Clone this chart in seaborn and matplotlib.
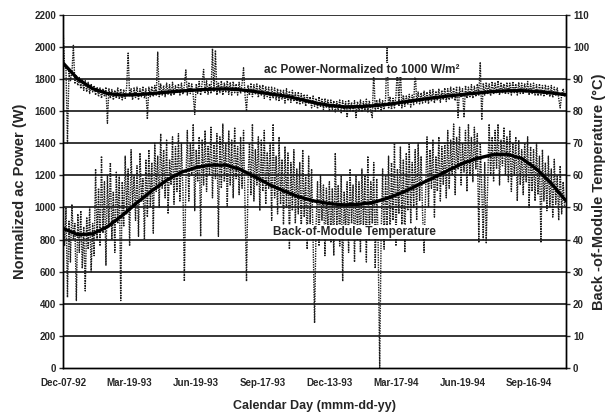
import numpy as np
import matplotlib
matplotlib.use("Agg")
import matplotlib.pyplot as plt
import seaborn as sns

# raw readings every 2nd day (one row = 40 days)
step_days = 2
temp_c = [
    47, 38, 50, 22, 46, 33, 51, 40, 45, 21, 48, 36, 49, 31, 44, 24, 47, 37, 50, 30,
    45, 35, 62, 40, 56, 38, 66, 42, 58, 32, 60, 44, 64, 40, 55, 36, 61, 45, 60, 21,
    58, 44, 66, 48, 62, 38, 68, 50, 60, 46, 63, 41, 67, 52, 59, 40, 65, 47, 68, 50,
    64, 42, 70, 55, 66, 50, 73, 56, 68, 53, 71, 48, 65, 57, 72, 51, 69, 55, 73, 52,
    70, 56, 27, 58, 74, 52, 70, 60, 76, 49, 68, 58, 72, 41, 71, 57, 74, 55, 69, 60,
    75, 53, 70, 59, 73, 41, 72, 56, 76, 58, 70, 50, 74, 57, 71, 53, 75, 59, 69, 54,
    72, 56, 74, 50, 27, 58, 70, 54, 76, 52, 68, 57, 72, 49, 71, 55, 74, 51, 67, 56,
    70, 46, 76, 53, 66, 48, 72, 51, 65, 44, 69, 50, 67, 37, 64, 49, 68, 45, 62, 48,
    64, 42, 68, 47, 60, 37, 66, 45, 62, 40, 14, 44, 58, 38, 60, 46, 57, 35, 56, 43,
    58, 39, 56, 35, 67, 44, 57, 38, 60, 27, 55, 42, 58, 36, 62, 45, 57, 33, 60, 40,
    58, 36, 62, 44, 60, 33, 66, 40, 58, 45, 64, 31, 59, 38, 0, 42, 62, 37, 60, 44,
    66, 40, 64, 46, 70, 38, 62, 48, 69, 44, 65, 36, 67, 49, 70, 45, 64, 50, 68, 46,
    70, 52, 66, 48, 36, 54, 72, 50, 68, 56, 71, 47, 66, 55, 72, 52, 69, 57, 70, 53,
    74, 56, 71, 60, 76, 54, 72, 62, 75, 57, 70, 61, 74, 55, 76, 60, 72, 58, 75, 62,
    73, 39, 70, 56, 40, 64, 39, 58, 76, 60, 72, 58, 74, 62, 76, 57, 71, 63, 75, 60,
    72, 58, 74, 55, 70, 60, 72, 52, 71, 57, 68, 54, 70, 58, 72, 50, 69, 55, 68, 52,
    70, 54, 66, 39, 68, 52, 64, 49, 66, 50, 62, 47, 65, 51, 60, 46, 63, 48, 58, 50,
]
power_w = [
    2120, 1880, 1860, 1400, 1850, 1790, 1840, 2010, 1770, 1820, 1760, 1810, 1740, 1800, 1730, 1790, 1720, 1780, 1710, 1770,
    1720, 1760, 1700, 1750, 1690, 1745, 1680, 1740, 1690, 1750, 1525, 1740, 1680, 1735, 1670, 1730, 1680, 1745, 1675, 1740,
    1670, 1735, 1680, 1750, 1962, 1690, 1740, 1670, 1745, 1685, 1750, 1670, 1740, 1690, 1755, 1680, 1740, 1550, 1750, 1690,
    1755, 1690, 1760, 1700, 1968, 1690, 1770, 1700, 1760, 1690, 1775, 1705, 1765, 1695, 1780, 1700, 1760, 1710, 1770, 1700,
    1775, 1705, 1760, 1857, 1700, 1780, 1710, 1770, 1700, 1580, 1770, 1710, 1785, 1700, 1775, 1860, 1710, 1790, 1705, 1770,
    1710, 1990, 1720, 1980, 1700, 1780, 1715, 1790, 1700, 1775, 1720, 1790, 1705, 1780, 1700, 1785, 1715, 1770, 1700, 1780,
    1710, 1770, 1870, 1700, 1600, 1760, 1700, 1775, 1690, 1765, 1705, 1770, 1685, 1760, 1700, 1765, 1680, 1755, 1690, 1750,
    1670, 1750, 1680, 1745, 1670, 1740, 1660, 1735, 1675, 1730, 1650, 1740, 1665, 1725, 1655, 1730, 1660, 1715, 1645, 1720,
    1640, 1710, 1650, 1705, 1630, 1700, 1645, 1690, 1620, 1695, 1630, 1680, 1615, 1690, 1625, 1675, 1610, 1680, 1620, 1670,
    1600, 1670, 1610, 1665, 1595, 1660, 1605, 1670, 1590, 1665, 1600, 1660, 1560, 1670, 1600, 1655, 1595, 1665, 1560, 1660,
    1600, 1670, 1595, 1660, 1605, 1675, 1590, 1665, 1600, 1560, 1860, 1600, 1670, 1610, 1675, 1600, 1665, 1610, 1680, 1994,
    1615, 1690, 1610, 1680, 1620, 1695, 1870, 1630, 1880, 1620, 1700, 1630, 1695, 1640, 1705, 1625, 1700, 1640, 1870, 1650,
    1720, 1645, 1715, 1650, 1725, 1655, 1720, 1645, 1730, 1660, 1735, 1650, 1725, 1665, 1740, 1655, 1730, 1670, 1745, 1660,
    1740, 1670, 1750, 1680, 1745, 1665, 1755, 1560, 1750, 1685, 1740, 1560, 1760, 1680, 1750, 1690, 1765, 1680, 1755, 1690,
    1770, 1700, 1906, 1545, 1775, 1700, 1780, 1710, 1770, 1695, 1785, 1705, 1775, 1710, 1790, 1700, 1780, 1715, 1770, 1705,
    1780, 1710, 1775, 1700, 1785, 1715, 1770, 1700, 1780, 1710, 1775, 1705, 1770, 1715, 1785, 1700, 1770, 1710, 1775, 1700,
    1765, 1695, 1770, 1700, 1760, 1690, 1765, 1700, 1755, 1690, 1760, 1685, 1750, 1695, 1745, 1680, 1620, 1700, 1740, 1690,
]

# trend lines, every 20 days
trend_step = 20
temp_trend = [43.5, 41.5, 41.8, 44, 47.5, 51.5, 55.2, 58.5, 61, 62.5, 63.2, 63.2,
              61.8, 59.5, 57, 55, 53.2, 52, 51.2, 50.8, 51, 51.6, 53, 54.8, 57,
              59.2, 61.5, 63.7, 65.3, 66.4, 66.6, 65.3, 62, 57.5, 52]
power_trend = [1900, 1800, 1740, 1710, 1700, 1703, 1710, 1718, 1726, 1732, 1737,
               1739, 1733, 1722, 1707, 1695, 1675, 1652, 1636, 1627, 1628, 1634,
               1643, 1657, 1670, 1683, 1694, 1704, 1713, 1722, 1727, 1728, 1722,
               1714, 1702]

tick_labels = ["Dec-07-92", "Mar-19-93", "Jun-19-93", "Sep-17-93",
               "Dec-13-93", "Mar-17-94", "Jun-19-94", "Sep-16-94"]
tick_every = 90

sns.set_style("white")
plt.rcParams['font.family'] = ['Liberation Sans', 'DejaVu Sans']
plt.rcParams['font.weight'] = 'bold'

temp_days = np.arange(len(temp_c)) * step_days
power_days = np.arange(len(power_w)) * step_days
tdays = np.arange(len(temp_trend)) * trend_step

fig = plt.figure(figsize=(6.12, 4.13), dpi=100)
ax = fig.add_axes([0.103, 0.109, 0.822, 0.855])
ax2 = ax.twinx()

for y in range(200, 2201, 200):
    ax.axhline(y, color="black", lw=1.1, zorder=1)

raw_style = dict(color="#1a1a1a", lw=1.0, dashes=(1, 0.8), estimator=None, sort=False, zorder=2)
sns.lineplot(x=power_days, y=power_w, ax=ax, **raw_style)
sns.lineplot(x=tdays, y=power_trend, ax=ax, color="black", lw=2.4,
             estimator=None, sort=False, zorder=3)
sns.lineplot(x=temp_days, y=temp_c, ax=ax2, **raw_style)
sns.lineplot(x=tdays, y=temp_trend, ax=ax2, color="black", lw=2.4,
             estimator=None, sort=False, zorder=3)

ax.set_xlim(0, 680)
ax.set_ylim(0, 2200)
ax2.set_ylim(0, 110)
ax.set_yticks(range(0, 2201, 200))
ax2.set_yticks(range(0, 111, 10))
ax.set_xticks(np.arange(len(tick_labels)) * tick_every)
ax.set_xticklabels(tick_labels)

for a in (ax, ax2):
    for s in a.spines.values():
        s.set_color("black")
        s.set_linewidth(1.0)
    a.spines['top'].set_visible(False)
ax.tick_params(axis='x', direction='inout', length=6, width=1, pad=4, labelsize=7)
ax.tick_params(axis='y', direction='out', length=3, width=1, pad=2, labelsize=7)
ax2.tick_params(axis='y', direction='out', length=3, width=1, pad=2, labelsize=7)

ax.set_xlabel("Calendar Day (mmm-dd-yy)", fontsize=9, fontweight='bold', labelpad=9)
ax.set_ylabel("Normalized ac Power (W)", fontsize=10.5, fontweight='bold', labelpad=5)
ax2.set_ylabel("Back -of-Module Temperature (\u00b0C)", fontsize=10.5,
               fontweight='bold', labelpad=2)

# labels go on the twin axes so they sit above both data series
box = dict(facecolor='white', edgecolor='none', pad=0.5)
ax2.text(0.594, 0.844, "ac Power-Normalized to 1000 W/m\u00b2", transform=ax2.transAxes,
         ha='center', va='center', fontsize=8.5, fontweight='bold', zorder=5, bbox=box)
ax2.text(0.58, 0.385, "Back-of-Module Temperature", transform=ax2.transAxes,
         ha='center', va='center', fontsize=8.5, fontweight='bold', zorder=5, bbox=box)

fig.savefig("out.png", dpi=100)
